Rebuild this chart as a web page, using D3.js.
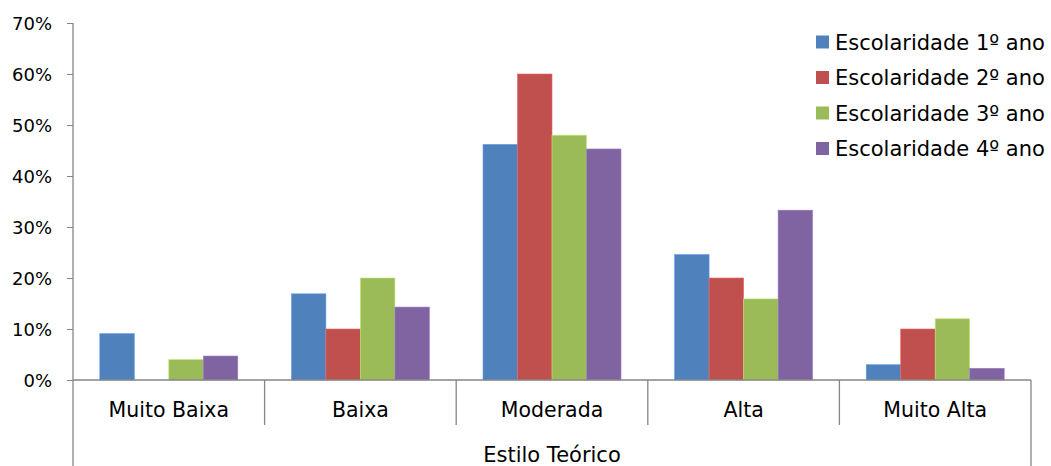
<!DOCTYPE html>
<html><head><meta charset="utf-8">
<script src="https://cdn.jsdelivr.net/npm/d3@7"></script>
<style>body{margin:0;background:#fff}svg{display:block}text{font-family:"DejaVu Sans",sans-serif;fill:#000}</style>
</head><body><svg id="c" width="1051" height="466"></svg>
<script>
const categories = ["Muito Baixa","Baixa","Moderada","Alta","Muito Alta"];
const seriesNames = ["Escolaridade 1º ano","Escolaridade 2º ano","Escolaridade 3º ano","Escolaridade 4º ano"];
const serie1 = [9.1, 16.9, 46.2, 24.6, 3.0];
const serie2 = [0, 10, 60, 20, 10];
const serie3 = [4.0, 20, 48, 15.9, 12];
const serie4 = [4.7, 14.3, 45.3, 33.3, 2.3];
const yTicks = [0,10,20,30,40,50,60,70];
const colors = ["#4F81BD","#C0504D","#9BBB59","#8064A2"];
const axisTitle = "Estilo Teórico";

(function(){
const series = [serie1, serie2, serie3, serie4];
const svg = d3.select("#c");
const pLeft = 73, pRight = 1031, pTop = 23, pBottom = 380;
const y = d3.scaleLinear().domain([0,70]).range([pBottom, pTop]);
const x0 = d3.scaleBand().domain(categories).range([pLeft, pRight]).padding(0);
const x1 = d3.scaleBand().domain(d3.range(4)).range([0, x0.bandwidth()]).paddingInner(0).paddingOuter(0.777);
const axisColor = "#868686";

categories.forEach((c, ci) => {
  series.forEach((s, si) => {
    if (s[ci] <= 0) return;
    svg.append("rect")
      .attr("x", x0(c) + x1(si))
      .attr("y", y(s[ci]))
      .attr("width", x1.bandwidth())
      .attr("height", y(0) - y(s[ci]))
      .attr("fill", colors[si])
      .attr("stroke", d3.color(colors[si]).brighter(0.6))
      .attr("stroke-width", 0.6);
  });
});

const yAxis = d3.axisLeft(y).tickValues(yTicks).tickFormat(d => d + "%").tickSize(6).tickSizeOuter(0);
const gy = svg.append("g").attr("transform", `translate(${pLeft},0)`).call(yAxis);
gy.select(".domain").remove();
gy.selectAll("line").attr("stroke", axisColor);
gy.selectAll("text").attr("font-size", 18).attr("x", -21).attr("dy", "0.36em").style("font-family","DejaVu Sans").style("fill","#000");
svg.append("line").attr("x1", pLeft).attr("x2", pLeft).attr("y1", pTop).attr("y2", 466).attr("stroke", axisColor).attr("stroke-width", 1.3);

svg.append("line").attr("x1", pLeft).attr("x2", pRight).attr("y1", pBottom).attr("y2", pBottom).attr("stroke", axisColor).attr("stroke-width", 1.5);
categories.forEach((c, i) => {
  if (i === 0) return;
  svg.append("line").attr("x1", x0(c)).attr("x2", x0(c)).attr("y1", pBottom).attr("y2", 425).attr("stroke", axisColor).attr("stroke-width", 1.3);
});
svg.append("line").attr("x1", pRight).attr("x2", pRight).attr("y1", pBottom).attr("y2", 466).attr("stroke", axisColor).attr("stroke-width", 1.3);

svg.selectAll(".cl").data(categories).enter().append("text")
  .attr("x", d => x0(d) + x0.bandwidth()/2).attr("y", 417)
  .attr("text-anchor", "middle").attr("font-size", 20.5).text(d => d);
svg.append("text").attr("x", (pLeft+pRight)/2).attr("y", 462).attr("text-anchor","middle").attr("font-size", 21).text(axisTitle);

seriesNames.forEach((n, i) => {
  const yy = 42 + i * 35.5;
  svg.append("rect").attr("x", 816).attr("y", yy - 6.5).attr("width", 13).attr("height", 13).attr("fill", colors[i]);
  svg.append("text").attr("x", 835).attr("y", yy).attr("dy", "0.36em").attr("font-size", 21).text(n);
});
})();
</script></body></html>
